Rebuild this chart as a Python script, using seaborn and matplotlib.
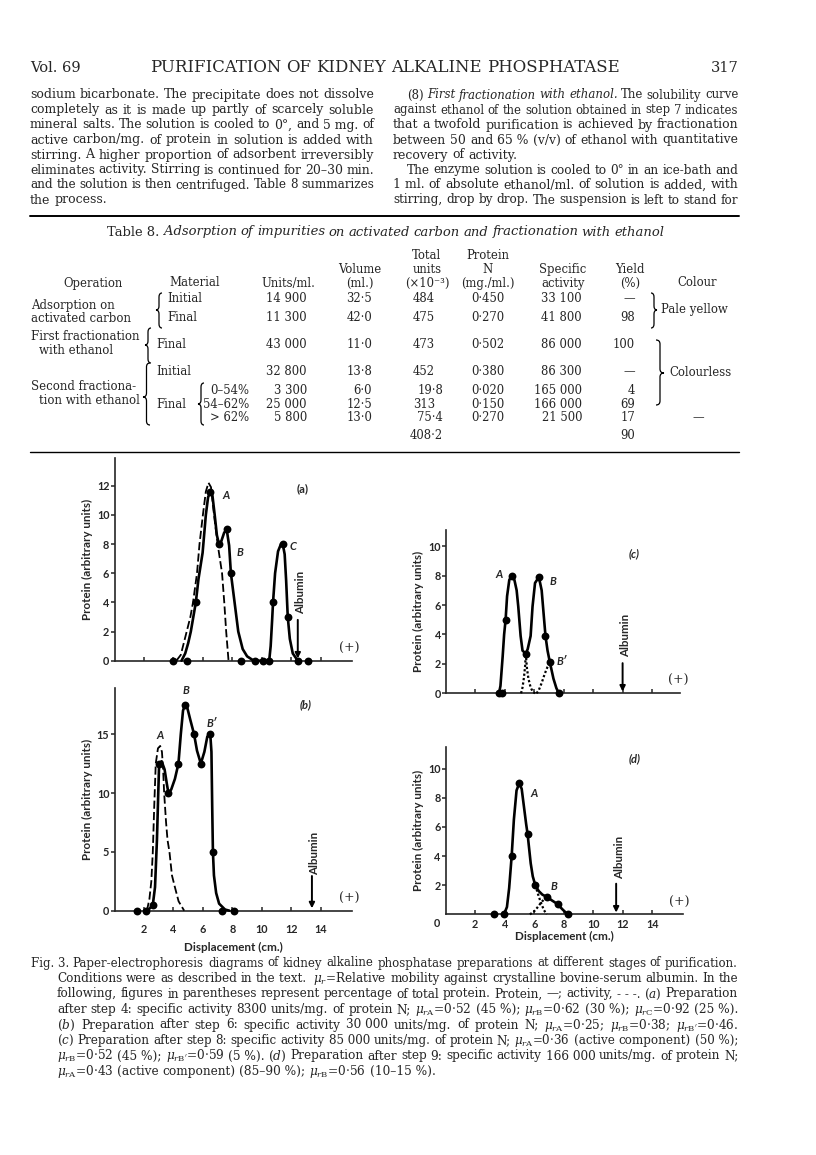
import numpy as np
import pandas as pd
import matplotlib
matplotlib.use("Agg")
import matplotlib.pyplot as plt
from matplotlib.path import Path
from matplotlib.patches import PathPatch
from matplotlib.lines import Line2D
from matplotlib.transforms import IdentityTransform
import seaborn as sns

W, H, DPI = 816, 1155, 100
SERIF = "DejaVu Serif"
SANS = "Lato"

# ---------------- page text ----------------
header_left, header_mid, header_right = "Vol. 69", "PURIFICATION OF KIDNEY ALKALINE PHOSPHATASE", "317"

body_left = [
    "sodium bicarbonate. The precipitate does not dissolve",
    "completely as it is made up partly of scarcely soluble",
    "mineral salts. The solution is cooled to 0°, and 5~mg. of",
    "active carbon/mg. of protein in solution is added with",
    "stirring. A higher proportion of adsorbent irreversibly",
    "eliminates activity. Stirring is continued for 20–30 min.",
    "and the solution is then centrifuged. Table 8 summarizes",
    "the process.",
]
body_right = [
    "(8) _First _fractionation _with _ethanol. The solubility curve",
    "against ethanol of the solution obtained in step 7 indicates",
    "that a twofold purification is achieved by fractionation",
    "between 50 and 65~% (v/v) of ethanol with quantitative",
    "recovery of activity.",
    "The enzyme solution is cooled to 0° in an ice-bath and",
    "1~ml. of absolute ethanol/ml. of solution is added, with",
    "stirring, drop by drop. The suspension is left to stand for",
]

# ---------------- Table 8 ----------------
table_title = "Table~8. _Adsorption _of _impurities _on _activated _carbon _and _fractionation _with _ethanol"
materials = ["Initial", "Final", "Final", "Initial", "0–54%", "54–62%", "> 62%"]
units_ml = ["14 900", "11 300", "43 000", "32 800", "3 300", "25 000", "5 800"]
volume_ml = ["32·5", "42·0", "11·0", "13·8", "6·0", "12·5", "13·0"]
total_units = ["484", "475", "473", "452", "19·8", "313", "75·4", "408·2"]
protein_n = ["0·450", "0·270", "0·502", "0·380", "0·020", "0·150", "0·270"]
spec_activity = ["33 100", "41 800", "86 000", "86 300", "165 000", "166 000", "21 500"]
yield_pct = ["—", "98", "100", "—", "4", "69", "17", "90"]

# ---------------- Fig. 3 data (displacement cm, protein arbitrary units) ----------------
# (a) after step 4
a_pts_x = [4.0, 4.91, 5.52, 6.5, 7.09, 7.63, 7.9, 8.6, 9.51, 10.06, 10.5, 10.76, 11.42, 11.76, 12.44, 13.12]
a_pts_y = [0, 0, 4, 11.6, 8, 9, 6, 0, 0, 0, 0, 4, 8, 3, 0, 0]
a_prot_x = [4.55, 4.8, 5.0, 5.18, 5.35, 5.52, 5.7, 5.98, 6.2, 6.35, 6.5, 6.65, 6.8, 6.95, 7.09, 7.25, 7.45,
            7.63, 7.78, 7.9, 8.15, 8.4, 8.7, 9.0, 9.45, 10.5, 10.6, 10.7, 10.76, 10.9, 11.1, 11.3, 11.42,
            11.55, 11.65, 11.76, 11.9, 12.1, 12.44]
a_prot_y = [0, 0.5, 1.2, 2.0, 3.0, 4.0, 5.6, 7.4, 10.0, 11.2, 11.6, 11.3, 10.0, 8.6, 8.0, 8.2, 8.8,
            8.9, 7.9, 6.0, 4.0, 2.0, 0.8, 0.3, 0, 0, 1.0, 2.8, 4.0, 6.0, 7.5, 8.0, 8.0,
            7.3, 5.5, 3.0, 1.5, 0.5, 0]
a_act_x = [4.2, 4.5, 4.9, 5.15, 5.33, 5.6, 5.77, 6.0, 6.2, 6.38, 6.55, 6.7, 6.85, 7.0, 7.15, 7.3, 7.45, 7.58, 7.74]
a_act_y = [0, 0.4, 2.0, 3.0, 4.0, 6.0, 8.0, 10.0, 11.6, 12.2, 11.9, 10.5, 9.2, 8.0, 7.0, 6.0, 4.0, 2.0, 0]

# (b) after step 6
b_pts_x = [1.51, 2.14, 2.6, 3.03, 3.66, 4.34, 4.79, 5.4, 5.86, 6.5, 6.68, 7.29, 8.13]
b_pts_y = [0, 0, 0.5, 12.5, 10, 12.5, 17.5, 15, 12.5, 15, 5, 0, 0]
b_prot_x = [2.14, 2.4, 2.6, 2.75, 2.88, 2.97, 3.03, 3.2, 3.4, 3.55, 3.66, 3.85, 4.1, 4.34, 4.5, 4.65, 4.79,
            4.95, 5.15, 5.4, 5.6, 5.86, 6.1, 6.3, 6.5, 6.58, 6.63, 6.68, 6.75, 6.9, 7.1, 7.5, 7.8]
b_prot_y = [0, 0.2, 0.5, 2.0, 6.0, 10.0, 12.5, 12.7, 12.0, 10.8, 10.0, 10.3, 11.2, 12.5, 15.0, 17.0, 17.5,
            17.2, 16.2, 15.0, 13.6, 12.5, 13.5, 14.8, 15.0, 13.5, 9.0, 5.0, 3.0, 1.5, 0.6, 0.1, 0]
b_act_x = [2.2, 2.37, 2.5, 2.6, 2.7, 2.8, 2.95, 3.1, 3.22, 3.3, 3.37, 3.5, 3.6, 3.73, 3.9, 4.1, 4.35, 4.73]
b_act_y = [0, 1.0, 2.5, 5.0, 9.0, 12.5, 13.8, 14.0, 13.5, 12.0, 10.0, 7.5, 6.0, 5.0, 3.0, 2.0, 0.8, 0]

# (c) after step 8
c_pts_x = [3.6, 3.8, 4.05, 4.46, 5.42, 6.31, 6.76, 7.06, 7.67]
c_pts_y = [0, 0, 5, 8, 2.7, 7.9, 3.9, 2.1, 0]
c_prot_x = [3.6, 3.7, 3.85, 3.95, 4.05, 4.15, 4.3, 4.46, 4.65, 4.8, 4.91, 5.07, 5.2, 5.42, 5.55, 5.75,
            5.88, 6.05, 6.31, 6.5, 6.65, 6.76, 6.9, 7.06, 7.3, 7.5, 7.67]
c_prot_y = [0, 0.5, 2.5, 4.0, 5.0, 6.6, 7.7, 8.0, 7.7, 7.0, 5.9, 3.9, 2.9, 2.7, 3.0, 3.9,
            5.9, 7.5, 7.9, 7.0, 5.2, 3.9, 2.9, 2.1, 1.0, 0.35, 0]
c_compB_x = [5.1, 5.2, 5.3, 5.38, 5.42]
c_compB_y = [0, 0.4, 1.1, 1.9, 2.7]
c_compA_x = [5.42, 5.5, 5.6, 5.75, 5.9, 6.05]
c_compA_y = [2.7, 1.7, 1.0, 0.4, 0.1, 0]
c_compB2_x = [6.15, 6.3, 6.5, 6.7, 6.9, 7.06]
c_compB2_y = [0, 0.2, 0.7, 1.3, 1.8, 2.1]

# (d) after step 9
d_pts_x = [3.3, 3.95, 4.47, 4.99, 5.55, 6.07, 6.84, 7.58, 8.26]
d_pts_y = [0, 0, 4, 9, 5.5, 2, 1.2, 0.7, 0]
d_prot_x = [3.95, 4.15, 4.3, 4.47, 4.62, 4.8, 4.99, 5.15, 5.3, 5.45, 5.55, 5.76, 5.9, 6.07, 6.3, 6.55,
            6.84, 7.2, 7.58, 7.9, 8.26]
d_prot_y = [0, 0.5, 1.8, 4.0, 6.5, 8.5, 9.0, 8.6, 7.4, 6.2, 5.5, 3.5, 2.6, 2.0, 1.6, 1.35,
            1.2, 0.95, 0.7, 0.35, 0]
d_compA_x = [6.07, 6.25, 6.45, 6.65, 6.84]
d_compA_y = [2.0, 1.4, 0.8, 0.3, 0]
d_compB_x = [5.7, 5.95, 6.2, 6.5, 6.84]
d_compB_y = [0, 0.15, 0.45, 0.85, 1.2]

albumin_pos = {"a": 12.44, "b": 13.4, "c": 12.0, "d": 11.55}

caption = [
    "Fig.~3. Paper-electrophoresis diagrams of kidney alkaline phosphatase preparations at different stages of purification.",
    "Conditions were as described in the text.~ $\\mu_r$=Relative mobility against crystalline bovine-serum albumin. In the",
    "following, figures in parentheses represent percentage of total protein. Protein, —; activity, -~-~-. $(a)$ Preparation",
    "after step 4: specific activity 8300 units/mg. of protein N; $\\mu_{r\\mathrm{A}}$=0·52 (45~%); $\\mu_{r\\mathrm{B}}$=0·62 (30~%); $\\mu_{r\\mathrm{C}}$=0·92 (25~%).",
    "$(b)$ Preparation after step 6: specific activity 30~000 units/mg. of protein N; $\\mu_{r\\mathrm{A}}$=0·25; $\\mu_{r\\mathrm{B}}$=0·38; $\\mu_{r\\mathrm{B}'}$=0·46.",
    "$(c)$ Preparation after step 8: specific activity 85~000 units/mg. of protein N; $\\mu_{r\\mathrm{A}}$=0·36 (active component) (50~%);",
    "$\\mu_{r\\mathrm{B}}$=0·52 (45~%); $\\mu_{r\\mathrm{B}'}$=0·59 (5~%). $(d)$ Preparation after step 9: specific activity 166~000 units/mg. of protein N;",
    "$\\mu_{r\\mathrm{A}}$=0·43 (active component) (85–90~%); $\\mu_{r\\mathrm{B}}$=0·56 (10–15~%).",
]

# ---------------- setup ----------------
sns.set_style("ticks")
plt.rcParams["font.family"] = [SANS, "DejaVu Sans"]
plt.rcParams["mathtext.fontset"] = "dejavuserif"

fig = plt.figure(figsize=(W / DPI, H / DPI), dpi=DPI)
fig.patch.set_facecolor("white")
REND = fig.canvas.get_renderer()
BASE = 3.5  # centre of a text line -> baseline, px
BOLD = "bold"


def words(text, x0, y, fs, x1=None, ha="left", family=SERIF, fit=False):
    parts = text.split(" ")
    arts = []
    for p in parts:
        ital = p.startswith("_")
        s = (p[1:] if ital else p).replace("~", " ")
        arts.append(fig.text(0, 0, s, fontsize=fs, family=family, weight="normal",
                             style="italic" if ital else "normal",
                             transform=IdentityTransform(), va="baseline", ha="left"))
    ws = [t.get_window_extent(REND).width for t in arts]
    gap = fs * DPI / 72 * 0.3
    if x1 is not None:
        natural = sum(ws) + gap * (len(ws) - 1)
        if fit or natural > (x1 - x0):
            k = (x1 - x0) / natural
            for t in arts:
                t.set_fontsize(fs * k)
            ws = [w * k for w in ws]
            gap *= k
        elif len(arts) > 1:
            gap = (x1 - x0 - sum(ws)) / (len(arts) - 1)
    total = sum(ws) + gap * (len(ws) - 1)
    x = {"left": x0, "center": x0 - total / 2, "right": x0 - total}[ha]
    for t, w in zip(arts, ws):
        t.set_position((x, H - y - BASE))
        x += w + gap


TFS = 8.4


def cell(s, x, y, ha="center", fs=TFS, style="normal"):
    fig.text(x, H - y - BASE, s, fontsize=fs, family=SERIF, weight="normal", ha=ha, va="baseline",
             style=style, transform=IdentityTransform())


def hrule(y, x0=30, x1=738.5, lw=1.0):
    fig.add_artist(Line2D([x0, x1], [H - y, H - y], lw=lw, color="black", transform=IdentityTransform()))


def brace(x, y0, y1, w, ym, side="left", lw=0.9):
    s = 1 if side == "left" else -1
    xa, xm = x + s * w, x + s * w / 2
    r = min(4.0, (y1 - y0) / 6)
    pts = [(xa, y0), (xm, y0), (xm, y0 + r), (xm, ym - r), (xm, ym), (x, ym),
           (xm, ym), (xm, ym + r), (xm, y1 - r), (xm, y1), (xa, y1)]
    codes = [Path.MOVETO, Path.CURVE3, Path.CURVE3, Path.LINETO, Path.CURVE3, Path.CURVE3,
             Path.CURVE3, Path.CURVE3, Path.LINETO, Path.CURVE3, Path.CURVE3]
    verts = [(px, H - py) for px, py in pts]
    fig.add_artist(PathPatch(Path(verts, codes), fill=False, lw=lw, ec="black",
                             transform=IdentityTransform()))


# ---------------- running head and body ----------------
words(header_left, 30, 68, 10.5)
words(header_mid, 150, 68, 10.5, x1=620, fit=True)
words(header_right, 738.5, 68, 10.5, ha="right")

for i, line in enumerate(body_left):
    last = i == len(body_left) - 1
    words(line, 30, 95 + 15 * i, 9.0, x1=None if last else 374)
for i, line in enumerate(body_right):
    x0 = 407 if i in (0, 5) else 393
    last = i == 4
    words(line, x0, 95 + 15 * i, 9.0, x1=None if last else 738.5)

hrule(216, lw=1.4)

# ---------------- table ----------------
words(table_title, 107, 232, 8.6, x1=664, fit=True)
for s, x in [("Operation", 93), ("Material", 195), ("Units/ml.", 288), ("Colour", 697)]:
    cell(s, x, 283)
for lines, x in [(["Volume", "(ml.)"], 360), (["Total", "units", "(×10⁻³)"], 427),
                 (["Protein", "N", "(mg./ml.)"], 488), (["Specific", "activity"], 563),
                 (["Yield", "(%)"], 630)]:
    for j, s in enumerate(lines):
        cell(s, x, 283 - 13.8 * (len(lines) - 1 - j))

row_y = [299, 317.7, 344.3, 371.7, 390, 404, 417.7, 435.7]
OFS = 8.5
cell("Adsorption on", 31, 306, ha="left", fs=OFS)
cell("activated carbon", 31, 319, ha="left", fs=OFS)
cell("First fractionation", 31, 337, ha="left", fs=OFS)
cell("with ethanol", 39, 350, ha="left", fs=OFS)
cell("Second fractiona-", 31, 387, ha="left", fs=OFS)
cell("tion with ethanol", 39, 401, ha="left", fs=OFS)
mat_x = [167, 167, 156, 156]
for i, m in enumerate(materials):
    if i < 4:
        cell(m, mat_x[i], row_y[i], ha="left")
    else:
        cell(m, 249, row_y[i], ha="right")
cell("Final", 156, row_y[5], ha="left")

for i in range(7):
    cell(units_ml[i], 307, row_y[i], ha="right")
    cell(volume_ml[i], 372, row_y[i], ha="right")
    cell(protein_n[i], 488, row_y[i])
    cell(spec_activity[i], 582, row_y[i], ha="right")
for i, v in enumerate(total_units):
    if "·" in v:
        cell(v, 443.3, row_y[i], ha="right")
    else:
        cell(v, 413, row_y[i], ha="left")
for i, v in enumerate(yield_pct):
    cell(v, 635, row_y[i], ha="right")
cell("Pale yellow", 661, 310, ha="left")
cell("Colourless", 669, 373, ha="left")
cell("—", 698, 418, ha="center")

brace(156, 293, 328, 6, 310)
brace(145, 328, 363, 6, 345)
brace(143, 363, 425, 7, 397)
brace(198, 383, 425, 6, 404)
brace(657, 293, 328, 6, 310, side="right")
brace(664, 340, 405, 8, 373, side="right")

hrule(451.7, lw=1.0)

# ---------------- Fig. 3 panels ----------------
def px_axes(left, right, top, bottom):
    return fig.add_axes([left / W, 1 - bottom / H, (right - left) / W, (bottom - top) / H])


def style_panel(ax, xmax, ymax, yticks, xlab_pad=None):
    ax.set_xlim(0, xmax)
    ax.set_ylim(0, ymax)
    sns.despine(ax=ax)
    for sp in ("left", "bottom"):
        ax.spines[sp].set_linewidth(1.2)
    ax.set_yticks(yticks, labels=[str(v) for v in yticks], fontweight=BOLD)
    xt = list(range(2, 15, 2))
    ax.set_xticks(xt, labels=[str(v) for v in xt], fontweight=BOLD)
    ax.tick_params(axis="y", direction="out", length=2.9, width=1.1, pad=0.8, labelsize=7.8)
    ax.tick_params(axis="x", direction="in", length=2.9, width=1.1, labelsize=7.8,
                   pad=xlab_pad if xlab_pad is not None else 2, labelbottom=xlab_pad is not None)
    ax.set_ylabel("Protein (arbitrary units)", fontsize=8.4, fontweight=BOLD)
    ax.yaxis.set_label_coords(-21.5 / (ax.get_position().width * W), 0.5)


def draw_curves(ax, prot_x, prot_y, pts_x, pts_y, act, dotted=False):
    sns.lineplot(x=prot_x, y=prot_y, ax=ax, color="black", lw=1.9, estimator=None, sort=False,
                 clip_on=False, zorder=4)
    ls = (0, (1, 1.0)) if dotted else (0, (4.5, 1.8))
    lw = 1.6 if dotted else 1.3
    for xs, ys in act:
        sns.lineplot(x=xs, y=ys, ax=ax, color="black", lw=lw, linestyle=ls, estimator=None,
                     sort=False, clip_on=False, zorder=3)
    sns.scatterplot(x=pts_x, y=pts_y, ax=ax, color="black", s=32, linewidth=0, zorder=6, clip_on=False)


def albumin(ax, x, ytop, ytext, yscale):
    ax.annotate("", xy=(x, 0.15 * yscale), xytext=(x, ytop),
                arrowprops=dict(arrowstyle="-|>", lw=1.4, color="black", mutation_scale=8,
                                shrinkA=0, shrinkB=0))
    ax.text(x + 0.2, ytext, "Albumin", rotation=90, ha="center", va="center", fontsize=8.3,
            fontweight=BOLD)


def tag(ax, x, y, s, fs=8, italic=True):
    ax.text(x, y, s, ha="center", va="center", fontsize=fs, fontweight=BOLD,
            style="italic" if italic else "normal")


def plus(ax, x, y):
    ax.text(x, y, "(+)", ha="center", va="center", fontsize=9, family=SERIF)


# (a)
ax_a = px_axes(114.5, 351.7, 458, 660.7)
draw_curves(ax_a, a_prot_x, a_prot_y, a_pts_x, a_pts_y, [(a_act_x, a_act_y)])
style_panel(ax_a, 16.1, 13.9, list(range(0, 13, 2)))
tag(ax_a, 7.56, 11.35, "A")
tag(ax_a, 8.5, 7.4, "B")
tag(ax_a, 12.1, 7.85, "C")
tag(ax_a, 12.8, 11.8, "(a)", italic=False)
albumin(ax_a, albumin_pos["a"], 2.8, 4.7, 1)
plus(ax_a, 15.9, 0.85)

# (b)
ax_b = px_axes(114.5, 351.7, 688.3, 910.7)
draw_curves(ax_b, b_prot_x, b_prot_y, b_pts_x, b_pts_y, [(b_act_x, b_act_y)])
style_panel(ax_b, 16.1, 18.9, [0, 5, 10, 15], xlab_pad=9.5)
ax_b.set_xlabel("Displacement (cm.)", fontsize=8.4, fontweight=BOLD)
ax_b.xaxis.set_label_coords(0.5, -31.3 / 222.4)
tag(ax_b, 3.09, 14.9, "A")
tag(ax_b, 4.86, 18.75, "B")
tag(ax_b, 6.6, 15.9, "B′")
tag(ax_b, 12.96, 17.5, "(b)")
albumin(ax_b, albumin_pos["b"], 2.95, 4.9, 18.9 / 13.9)
plus(ax_b, 15.9, 1.05)

# (c)
ax_c = px_axes(446, 680, 530, 693.3)
draw_curves(ax_c, c_prot_x, c_prot_y, c_pts_x, c_pts_y,
            [(c_compB_x, c_compB_y), (c_compA_x, c_compA_y), (c_compB2_x, c_compB2_y)], dotted=True)
style_panel(ax_c, 15.9, 11.1, list(range(0, 11, 2)))
tag(ax_c, 3.6, 8.1, "A")
tag(ax_c, 7.24, 7.6, "B")
tag(ax_c, 7.9, 2.15, "B′")
tag(ax_c, 12.8, 9.5, "(c)")
albumin(ax_c, albumin_pos["c"], 2.05, 3.9, 0.8)
plus(ax_c, 15.8, 0.85)

# (d)
ax_d = px_axes(445.7, 683.3, 746.7, 914.3)
draw_curves(ax_d, d_prot_x, d_prot_y, d_pts_x, d_pts_y,
            [(d_compA_x, d_compA_y), (d_compB_x, d_compB_y)], dotted=True)
style_panel(ax_d, 16.1, 11.5, list(range(2, 11, 2)), xlab_pad=3.2)
ax_d.annotate("0", xy=(0, 0), xytext=(-8.7, -9), textcoords="offset pixels", ha="center",
              va="center", fontsize=7.8, fontweight=BOLD)
ax_d.set_xlabel("Displacement (cm.)", fontsize=8.4, fontweight=BOLD)
ax_d.xaxis.set_label_coords(0.5, -16.5 / 167.6)
tag(ax_d, 6.0, 8.3, "A")
tag(ax_d, 7.36, 1.9, "B")
tag(ax_d, 12.8, 10.7, "(d)")
albumin(ax_d, albumin_pos["d"], 2.1, 3.9, 0.8)
plus(ax_d, 15.8, 0.8)

# ---------------- caption ----------------
for i, line in enumerate(caption):
    x0 = 31 if i == 0 else 57
    last = i == len(caption) - 1
    words(line, x0, 963 + 15.5 * i, 8.7, x1=None if last else 738.5)

fig.savefig("out.png", dpi=DPI)
